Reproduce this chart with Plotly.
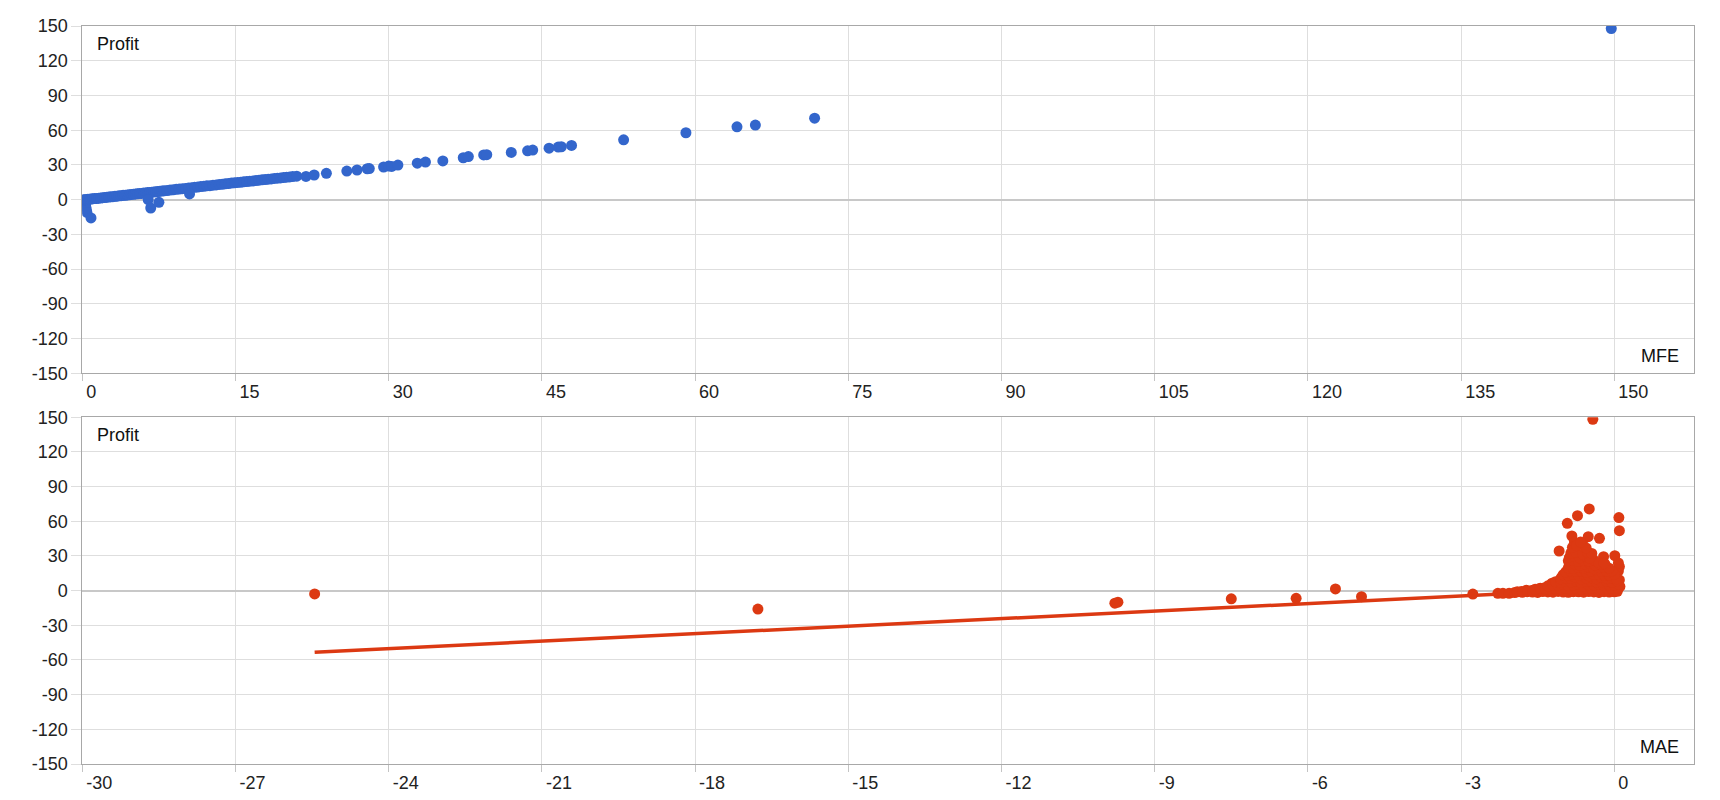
import plotly.graph_objects as go

# ---------------- data ----------------
# Top panel: MFE vs Profit
mfe_values = [
    # spike near the origin
    0.25, 0.30, 0.35, 0.40, 0.45, 0.85,
    # main band
    0.05, 0.15, 0.25, 0.40, 0.55, 0.70, 0.85, 1.0, 1.2, 1.4,
    1.6, 1.8, 2.0, 2.2, 2.4, 2.6, 2.8, 3.0, 3.2, 3.4,
    3.6, 3.8, 4.0, 4.2, 4.4, 4.6, 4.8, 5.0, 5.2, 5.4,
    5.6, 5.8, 6.0, 6.2, 6.4, 6.6, 6.8, 7.0, 7.2, 7.4,
    7.6, 7.8, 8.0, 8.3, 8.6, 8.9, 9.2, 9.5, 9.8, 10.1,
    10.4, 10.7, 11.0, 11.3, 11.6, 11.9, 12.2, 12.5, 12.8, 13.1,
    13.4, 13.7, 14.0, 14.3, 14.6, 14.9, 15.2, 15.5, 15.8, 16.1,
    16.4, 16.7, 17.0, 17.3, 17.6, 17.9, 18.2, 18.5, 18.8, 19.1,
    19.4, 19.7, 20.0, 20.3, 20.6, 21.0,
    # off-band points
    6.45, 6.7, 7.5, 10.5,
    # upper tail
    21.9, 22.7, 23.9, 25.9, 26.9, 27.9, 28.1, 29.5, 30.0, 30.3,
    30.9, 32.8, 33.6, 35.3, 37.3, 37.8, 39.3, 39.6, 42.0, 43.6,
    44.1, 45.7, 46.6, 46.9, 47.9, 53.0, 59.1, 64.1, 65.9, 71.7,
    149.7,
]
mfe_profit = [
    -2.0, -4.0, -6.5, -9.0, -11.0, -15.8,
    -0.4, -0.2, 0.0, 0.1, 0.3, 0.4, 0.5, 0.7, 0.9, 1.0,
    1.3, 1.4, 1.7, 1.8, 2.1, 2.2, 2.5, 2.6, 2.9, 3.0,
    3.3, 3.4, 3.7, 3.8, 4.1, 4.2, 4.5, 4.6, 4.9, 5.0,
    5.3, 5.4, 5.7, 5.8, 6.1, 6.2, 6.5, 6.6, 6.9, 7.0,
    7.3, 7.4, 7.7, 7.9, 8.3, 8.5, 8.9, 9.1, 9.5, 9.7,
    10.1, 10.3, 10.7, 10.9, 11.3, 11.5, 11.9, 12.1, 12.5, 12.7,
    13.1, 13.3, 13.7, 13.9, 14.3, 14.5, 14.9, 15.0, 15.4, 15.6,
    16.0, 16.2, 16.5, 16.8, 17.1, 17.3, 17.7, 17.9, 18.3, 18.5,
    18.8, 19.1, 19.4, 19.6, 20.0, 20.3,
    0.0, -7.2, -2.3, 4.9,
    20.1, 21.3, 22.7, 24.7, 25.6, 26.7, 26.8, 28.2, 29.0, 28.7,
    29.9, 31.5, 32.5, 33.4, 36.2, 37.2, 38.6, 38.8, 40.8, 42.2,
    42.8, 44.5, 45.4, 45.7, 46.8, 51.7, 57.8, 62.9, 64.4, 70.4,
    147.8,
]

# Bottom panel: MAE vs Profit
mae_values = [
    # isolated trades
    -25.45, -16.77, -9.72, -9.78, -7.50, -6.23, -5.46, -4.95, -2.77,
    # leading edge of the cluster
    -2.28, -2.18, -2.06, -1.95, -1.82, -1.72, -1.62, -1.49, -1.38, -1.22, -1.12, -1.03, -0.90,
    # outliers above the cluster
    -0.42, -0.49, -0.72, -0.92, 0.09, 0.10, -0.83, -0.51, -0.29, -0.78,
    -0.62, -1.08, -0.80, 0.01, -0.21, 0.10, 0.08, 0.10, 0.11, 0.08,
    # dense cluster
    -1.90, -1.80, -1.70, -1.60, -1.50, -1.40, -1.30, -1.20, -1.10, -1.00, -0.90, -0.80, -0.70, -0.60, -0.50, -0.40, -0.30, -0.20, -0.10, 0.00, 0.06,
    -1.55, -1.45, -1.35, -1.25, -1.15, -1.05, -0.95, -0.85, -0.75, -0.65, -0.55, -0.45, -0.35, -0.25, -0.15, -0.05, 0.07,
    -1.30, -1.20, -1.10, -1.00, -0.90, -0.80, -0.70, -0.60, -0.50, -0.40, -0.30, -0.20, -0.10, 0.00, 0.09,
    -1.15, -1.05, -0.95, -0.85, -0.75, -0.65, -0.55, -0.45, -0.35, -0.25, -0.15, -0.05, 0.05,
    -1.05, -0.95, -0.85, -0.75, -0.65, -0.55, -0.45, -0.35, -0.25, -0.15, -0.05, 0.04,
    -1.00, -0.90, -0.80, -0.70, -0.60, -0.50, -0.40, -0.30, -0.20, -0.10, 0.00,
    -0.95, -0.85, -0.75, -0.65, -0.55, -0.45, -0.35, -0.25, -0.15, -0.05,
    -0.90, -0.80, -0.70, -0.60, -0.50, -0.40, -0.30, -0.20, -0.10,
    -0.88, -0.78, -0.68, -0.58, -0.48, -0.38, -0.28, -0.18,
    -0.90, -0.80, -0.70, -0.60, -0.50, -0.40, -0.30, -0.20,
    -0.88, -0.78, -0.68, -0.58, -0.48,
    -0.85, -0.75, -0.62, -0.52, -0.44,
    -0.82, -0.74, -0.55, -0.66,
]
mae_profit = [
    -2.8, -15.9, -10.0, -10.8, -7.1, -6.6, 1.5, -5.2, -3.0,
    -2.3, -2.3, -2.3, -1.6, -0.8, 0.4, 0.2, 1.5, 2.2, 6.4, 4.0, 11.6, 17.9,
    148.3, 70.7, 64.9, 58.3, 63.2, 51.9, 47.3, 46.7, 45.3, 42.0,
    40.5, 34.3, 35.2, 30.3, 29.4, 20.8, 17.0, 9.3, 3.5, 24.0,
    -1.0, -1.4, -0.9, -1.2, -1.5, -0.8, -1.1, -1.3, -0.7, -1.2, -1.4, -0.9, -1.0, -1.3, -0.8, -1.1, -1.5, -0.9, -1.2, -1.0, -0.6,
    1.2, 2.0, 1.6, 2.4, 1.8, 1.5, 2.2, 1.7, 2.5, 1.4, 2.1, 1.9, 2.6, 1.5, 2.3, 1.8, 2.0,
    4.2, 5.0, 4.6, 5.3, 4.4, 4.9, 5.5, 4.1, 5.2, 4.7, 5.6, 4.3, 5.1, 4.8, 5.4,
    7.8, 7.2, 8.1, 7.5, 8.4, 7.0, 7.9, 8.2, 7.3, 7.7, 8.0, 7.4, 8.5,
    10.2, 11.0, 10.6, 11.4, 10.1, 10.9, 11.2, 10.4, 11.6, 10.7, 11.1, 10.3,
    13.8, 13.2, 14.1, 13.5, 14.4, 13.0, 13.9, 14.2, 13.4, 13.7, 14.0,
    16.3, 17.0, 16.6, 17.2, 16.1, 16.9, 17.4, 16.5, 16.8, 17.1,
    19.8, 19.2, 20.1, 19.5, 20.4, 19.0, 19.9, 20.2, 19.4,
    22.6, 23.1, 22.2, 22.9, 23.4, 22.4, 23.0, 22.7,
    25.8, 26.3, 25.4, 26.0, 25.6, 26.4, 24.2, 23.8,
    28.6, 29.5, 28.3, 29.8, 28.1,
    32.5, 33.2, 31.8, 33.0, 32.2,
    37.5, 39.0, 37.0, 42.0,
]

# Linear trendline endpoints (bottom panel)
trend_mae = [-25.45, 0.11]
trend_profit = [-53.4, 2.1]

# Tick labels
mfe_ticks = [0, 15, 30, 45, 60, 75, 90, 105, 120, 135, 150]
mae_ticks = [-30, -27, -24, -21, -18, -15, -12, -9, -6, -3, 0]
profit_ticks = [-150, -120, -90, -60, -30, 0, 30, 60, 90, 120, 150]

assert len(mfe_values) == len(mfe_profit)
assert len(mae_values) == len(mae_profit)

# ---------------- layout constants ----------------
W, H = 1720, 800
L, R = 82.3, 1694.3
TOP_T, TOP_B = 26.0, 373.3
BOT_T, BOT_B = 417.3, 764.0
FONT = "Arial, 'Liberation Sans', sans-serif"
BLUE = "#3366CC"
RED = "#DC3912"
GRID = "#dedede"
FRAME = "#a8a8a8"
MSIZE = 11

fig = go.Figure()
fig.add_trace(go.Scatter(x=mfe_values, y=mfe_profit, mode="markers",
                         marker=dict(color=BLUE, size=MSIZE, line=dict(width=0)),
                         xaxis="x", yaxis="y", hoverinfo="x+y"))
fig.add_trace(go.Scatter(x=trend_mae, y=trend_profit, mode="lines",
                         line=dict(color=RED, width=3.5),
                         xaxis="x2", yaxis="y2", hoverinfo="skip"))
fig.add_trace(go.Scatter(x=mae_values, y=mae_profit, mode="markers",
                         marker=dict(color=RED, size=MSIZE, line=dict(width=0)),
                         xaxis="x2", yaxis="y2", hoverinfo="x+y"))


def xaxis_cfg(rng, ticks, anchor):
    return dict(domain=[L / W, R / W], range=rng, anchor=anchor,
                tickmode="array", tickvals=ticks, ticktext=[str(t) for t in ticks],
                showgrid=True, gridcolor=GRID, gridwidth=1, zeroline=False,
                showline=True, linecolor=FRAME, linewidth=1, mirror=True,
                ticks="outside", ticklen=7, tickcolor="#c4c4c4", tickwidth=1,
                ticklabelposition="outside right", ticklabelshift=3,
                ticklabelstandoff=2,
                tickfont=dict(family=FONT, size=18, color="#222"),
                automargin=False, fixedrange=True)


def yaxis_cfg(top, bottom, anchor):
    return dict(domain=[1 - bottom / H, 1 - top / H], range=[-150, 150], anchor=anchor,
                tickmode="array", tickvals=profit_ticks,
                ticktext=[str(t) for t in profit_ticks],
                showgrid=True, gridcolor=GRID, gridwidth=1,
                zeroline=True, zerolinecolor="#c8c8c8", zerolinewidth=2,
                showline=True, linecolor=FRAME, linewidth=1, mirror=True,
                ticks="outside", ticklen=10, tickcolor=GRID, tickwidth=1,
                tickfont=dict(family=FONT, size=18, color="#222"),
                automargin=False, fixedrange=True)


fig.update_layout(
    width=W, height=H,
    margin=dict(l=0, r=0, t=0, b=0),
    paper_bgcolor="white", plot_bgcolor="white",
    showlegend=False,
    font=dict(family=FONT, size=18, color="#222"),
    xaxis=xaxis_cfg([0, 157.83], mfe_ticks, "y"),
    yaxis=yaxis_cfg(TOP_T, TOP_B, "x"),
    xaxis2=xaxis_cfg([-30, 1.567], mae_ticks, "y2"),
    yaxis2=yaxis_cfg(BOT_T, BOT_B, "x2"),
)

ann_font = dict(family=FONT, size=18, color="#111")
fig.add_annotation(text="Profit", xref="paper", yref="paper", x=95.0 / W, y=1 - 44.3 / H,
                   xanchor="left", yanchor="middle", showarrow=False, font=ann_font)
fig.add_annotation(text="MFE", xref="paper", yref="paper", x=1681.0 / W, y=1 - 356.0 / H,
                   xanchor="right", yanchor="middle", showarrow=False, font=ann_font)
fig.add_annotation(text="Profit", xref="paper", yref="paper", x=95.0 / W, y=1 - 435.3 / H,
                   xanchor="left", yanchor="middle", showarrow=False, font=ann_font)
fig.add_annotation(text="MAE", xref="paper", yref="paper", x=1681.0 / W, y=1 - 747.0 / H,
                   xanchor="right", yanchor="middle", showarrow=False, font=ann_font)

fig.write_html("out.html", config={"displayModeBar": False})
